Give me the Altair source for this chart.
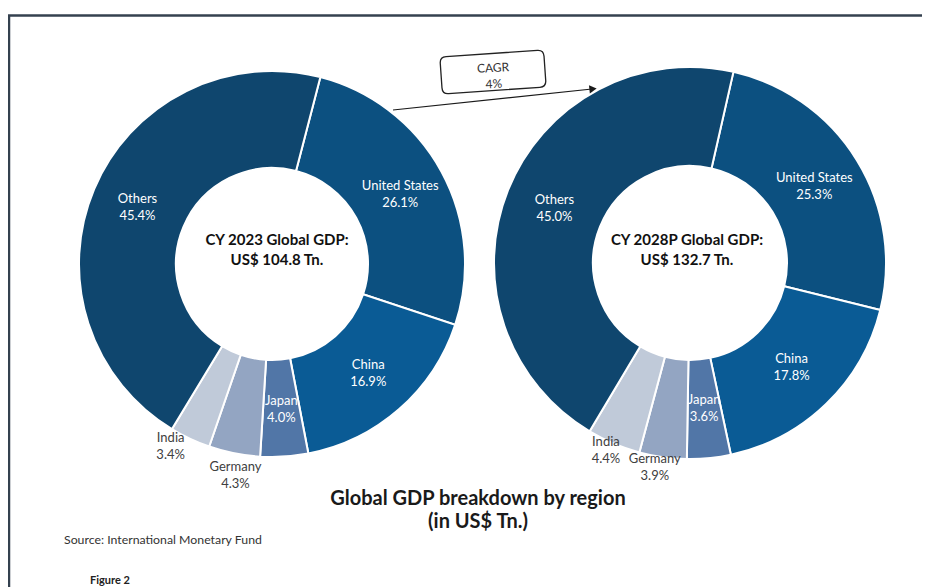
import math
import altair as alt
import pandas as pd

# ---- data ----
regions = ["United States", "China", "Japan", "Germany", "India", "Others"]
share_2023 = [26.1, 16.9, 4.0, 4.3, 3.4, 45.4]
share_2028 = [25.3, 17.8, 3.6, 3.9, 4.4, 45.0]
years = ["CY 2023", "CY 2028P"]
totals = [104.8, 132.7]
colors = ["#0c5080", "#0a5b95", "#5176a7", "#93a5c2", "#c0cad9", "#0f466e"]
cagr_lines = ["CAGR", "4%"]
title_lines = ["Global GDP breakdown by region", "(in US$ Tn.)"]
source_text = "Source: International Monetary Fund"
figure_text = "Figure 2"

FONT = "Lato"
LABEL_SIZE = 13
LINE_H = 17
dummy = pd.DataFrame({"k": [0]})


def frame(shares):
    return pd.DataFrame({
        "region": regions,
        "share": shares,
        "idx": list(range(len(regions))),
        "label": [f"{r}\n{s:.1f}%" for r, s in zip(regions, shares)],
    })


def donut(shares, cx, cy, start_deg, r_in, r_out, r_lab, outside):
    df = frame(shares)
    start = math.radians(start_deg)
    base = alt.Chart(df).encode(
        theta=alt.Theta("share:Q", stack="normalize",
                        scale=alt.Scale(range=[start, start + 2 * math.pi])),
        order=alt.Order("idx:Q"),
        detail="region:N",
        x=alt.value(cx),
        y=alt.value(cy),
    )
    arcs = base.mark_arc(innerRadius=r_in, outerRadius=r_out,
                         stroke="white", strokeWidth=2).encode(
        color=alt.Color("region:N", scale=alt.Scale(domain=regions, range=colors),
                        legend=None)
    )
    out_names = [o[0] for o in outside]
    inside = base.mark_text(radius=r_lab, dy=-LINE_H / 2, font=FONT, fontSize=LABEL_SIZE,
                            color="white", lineBreak="\n", lineHeight=LINE_H,
                            baseline="middle").encode(
        text="label:N",
        opacity=alt.condition(
            alt.FieldOneOfPredicate(field="region", oneOf=out_names),
            alt.value(0), alt.value(1)),
    )
    layers = [arcs, inside]
    for name, rad, dx, dy in outside:
        layers.append(
            base.mark_text(radius=rad, dx=dx, dy=dy, font=FONT, fontSize=LABEL_SIZE,
                           color="#404040", lineBreak="\n", lineHeight=LINE_H,
                           baseline="middle").encode(
                text="label:N",
                opacity=alt.condition(alt.datum.region == name,
                                      alt.value(1), alt.value(0)),
            )
        )
    return alt.layer(*layers)


def note(lines, x, y, size, bold=False, color="#222222", align="center",
         angle=None, lh=None):
    kw = dict(font=FONT, fontSize=size, fontWeight="bold" if bold else "normal",
              color=color, align=align, baseline="middle")
    if angle is not None:
        kw["angle"] = angle
    if lh is not None:
        kw["lineHeight"] = lh
    return alt.Chart(dummy).mark_text(**kw).encode(
        x=alt.value(x), y=alt.value(y), text=alt.value(lines))


left = donut(share_2023, 264, 256, 14.5, 96, 193, 146,
             [("Germany", 215, 5.5, -7.8), ("India", 212, -11.4, -18.2)])
right = donut(share_2028, 682, 255, 12.8, 97, 196, 146,
              [("Germany", 207, -6.6, -9.5), ("India", 206, -4, -11.2)])

centre_left = note([f"{years[0]} Global GDP:", f"US$ {totals[0]} Tn."], 269, 232, 15,
                   bold=True, color="#111111", lh=20)
centre_right = note([f"{years[1]} Global GDP:", f"US$ {totals[1]} Tn."], 679, 232, 15,
                    bold=True, color="#111111", lh=20)

# frame lines
frame_top = alt.Chart(dummy).mark_rule(color="#34414f", strokeWidth=2.5).encode(
    x=alt.value(0), x2=alt.value(914), y=alt.value(7.5), y2=alt.value(7.5))
frame_left = alt.Chart(dummy).mark_rule(color="#34414f", strokeWidth=2.5).encode(
    x=alt.value(1), x2=alt.value(1), y=alt.value(7.5), y2=alt.value(579))

# CAGR arrow and box
arrow_line = alt.Chart(dummy).mark_rule(color="#1a1a1a", strokeWidth=1.2).encode(
    x=alt.value(385), y=alt.value(102), x2=alt.value(584), y2=alt.value(81))
arrow_head = alt.Chart(dummy).mark_point(shape="triangle-right", filled=True,
                                         color="#1a1a1a", size=70, angle=354,
                                         opacity=1).encode(
    x=alt.value(585), y=alt.value(81))
box_path = ("M-0.88,-0.356 L0.88,-0.356 Q1,-0.356 1,-0.236 L1,0.236 Q1,0.356 0.88,0.356 "
            "L-0.88,0.356 Q-1,0.356 -1,0.236 L-1,-0.236 Q-1,-0.356 -0.88,-0.356 Z")
cagr_box = alt.Chart(dummy).mark_point(shape=box_path, filled=True, fill="white",
                                       stroke="#222222", strokeWidth=1.3, size=10816,
                                       angle=356, opacity=1, fillOpacity=1).encode(
    x=alt.value(485), y=alt.value(64))
cagr_txt = note(cagr_lines, 485, 60, 12, color="#333333", angle=357, lh=16)

title = note(title_lines, 470, 491, 20, bold=True, color="#1a1a1a", lh=23)
source = note(source_text, 56, 532, 12.3, color="#333333", align="left")
figure = note(figure_text, 82, 573, 11, bold=True, color="#222222", align="left")

chart = alt.layer(
    frame_top, frame_left, left, right, centre_left, centre_right,
    arrow_line, arrow_head, cagr_box, cagr_txt, title, source, figure,
).resolve_scale(theta="independent").properties(
    width=914, height=579, autosize=alt.AutoSizeParams(type="none"), padding=0,
    background="white",
).configure_view(stroke=None)

chart.save("out.html", embed_options={"renderer": "svg", "actions": False})
